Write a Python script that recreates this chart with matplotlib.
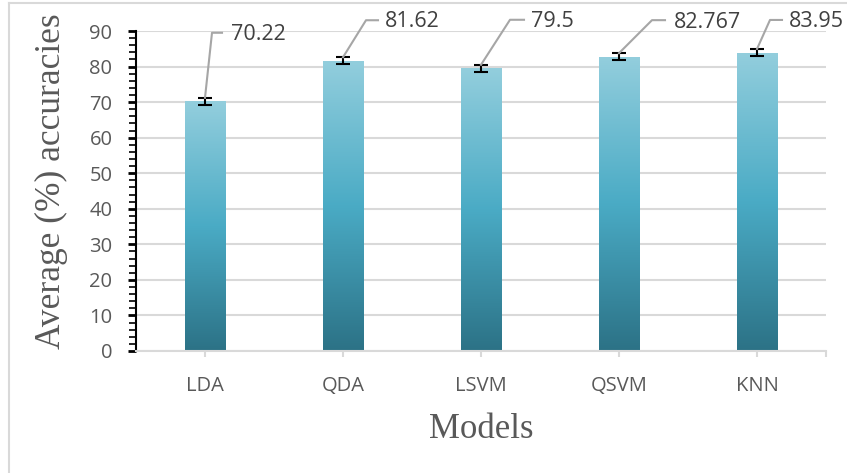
import numpy as np
import matplotlib
matplotlib.use("Agg")
import matplotlib.pyplot as plt
from matplotlib.colors import LinearSegmentedColormap
from matplotlib.ticker import MultipleLocator
from matplotlib.lines import Line2D

# Data
models = ["LDA", "QDA", "LSVM", "QSVM", "KNN"]
accuracies = [70.22, 81.62, 79.5, 82.767, 83.95]
errors = [1.0, 1.0, 1.0, 1.0, 1.0]
value_labels = ["70.22", "81.62", "79.5", "82.767", "83.95"]

# Leader-line geometry for each value label, in pixels relative to the bar top:
# (elbow dx, elbow dy, horizontal end dx, text dx, text dy)
leader_offsets = [
    (7, 65, 17, 26, 63),
    (23, 37, 35, 42, 36),
    (29, 45, 43, 50, 43),
    (33, 33, 46, 55, 31),
    (13, 29, 25, 32, 27),
]

W, H, DPI = 847, 473, 100
fig = plt.figure(figsize=(W / DPI, H / DPI), dpi=DPI)
fig.patch.set_facecolor("white")

# light frame around the chart area
fig.add_artist(Line2D([9 / W, 9 / W], [0, 1 - 3 / H], transform=fig.transFigure,
                      color="#d9d9d9", lw=1.5))
fig.add_artist(Line2D([9 / W, 1], [1 - 3 / H, 1 - 3 / H], transform=fig.transFigure,
                      color="#d9d9d9", lw=1.5))

left, right, bottom, top = 136, 826, 351, 31
ax = fig.add_axes([left / W, 1 - bottom / H, (right - left) / W, (bottom - top) / H])

x = np.arange(len(models))

# gridlines
ax.yaxis.set_major_locator(MultipleLocator(10))
ax.yaxis.set_minor_locator(MultipleLocator(2))
ax.grid(axis="y", which="major", color="#d9d9d9", lw=1.5, zorder=0)
ax.set_axisbelow(True)

# gradient bars
cmap = LinearSegmentedColormap.from_list(
    "teal", [(0.0, "#2c7286"), (0.5, "#4aabc5"), (1.0, "#93cedd")])
grad = np.linspace(0, 1, 256).reshape(-1, 1)
bar_w = 0.29
bars = ax.bar(x, accuracies, width=bar_w, color="none", edgecolor="none", zorder=2)
for rect, val in zip(bars, accuracies):
    x0 = rect.get_x()
    im = ax.imshow(grad, cmap=cmap, origin="lower", aspect="auto",
                   extent=(x0, x0 + bar_w, 0, val), zorder=2)
    im.set_clip_path(rect)
ax.set_xlim(-0.5, len(models) - 0.5)
ax.set_ylim(0, 90)

# error bars
ax.errorbar(x, accuracies, yerr=errors, fmt="none", ecolor="black",
            elinewidth=1.5, capsize=5, capthick=1.5, zorder=3)

# spines
for s in ["top", "right"]:
    ax.spines[s].set_visible(False)
ax.spines["left"].set_color("black")
ax.spines["left"].set_linewidth(1.5)
ax.spines["bottom"].set_color("#d9d9d9")
ax.spines["bottom"].set_linewidth(1.5)

tick_font = dict(family="Open Sans", size=14.5)
ax.set_yticks(np.arange(0, 91, 10))
ax.set_yticklabels([str(v) for v in range(0, 91, 10)], color="#595959", **tick_font)
ax.tick_params(axis="y", which="major", direction="out", length=6, width=2,
               color="black", pad=11)
ax.tick_params(axis="y", which="minor", direction="out", length=5, width=1.2,
               color="black")
ax.set_xticks(x)
ax.set_xticklabels(models, color="#595959", **tick_font)
ax.set_xticks([len(models) - 0.5], minor=True)
ax.tick_params(axis="x", which="both", direction="out", length=4, width=1.5,
               color="#d9d9d9", pad=14)

ax.set_ylabel("Average (%) accuracies", family="Liberation Serif", size=25.5,
              color="#595959")
ax.yaxis.set_label_coords(-0.098, 0.53)
ax.set_xlabel("Models", family="Liberation Serif", size=25, color="#595959",
              labelpad=12)

# value labels with leader lines, placed in pixel space
fig.canvas.draw()
to_px = ax.transData
to_data = ax.transData.inverted()
for xi, val, err, lab, (edx, edy, hdx, tdx, tdy) in zip(
        x, accuracies, errors, value_labels, leader_offsets):
    px, py = to_px.transform((xi, val + err))
    pts_px = [(px, py), (px + edx, py + edy), (px + hdx, py + edy)]
    pts = to_data.transform(pts_px)
    ax.plot(pts[:, 0], pts[:, 1], color="#a6a6a6", lw=1.5, clip_on=False, zorder=4)
    tx, ty = to_data.transform((px + tdx, py + tdy))
    ax.text(tx, ty, lab, ha="left", va="center", color="#404040",
            family="Open Sans", size=15.5, clip_on=False, zorder=5)

fig.savefig("out.png", dpi=DPI, facecolor="white")
